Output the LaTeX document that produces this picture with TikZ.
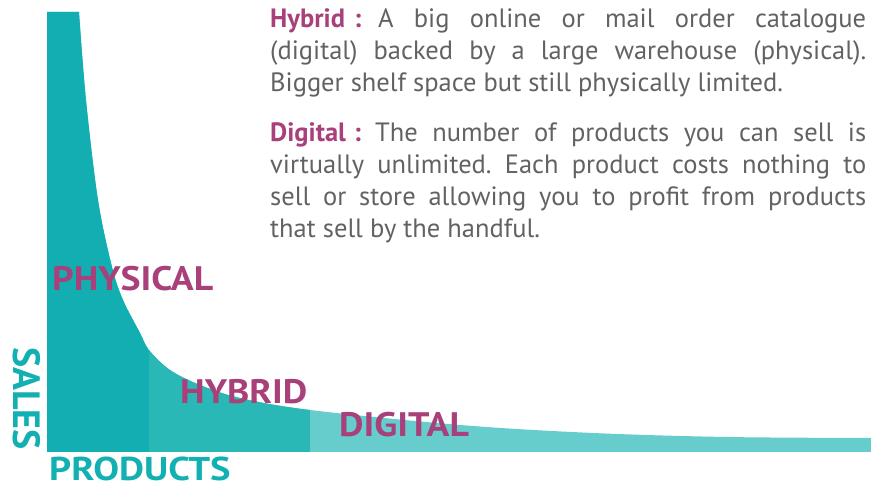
\documentclass[tikz,border=0pt]{standalone}
\usepackage{fontspec}
\setmainfont{PT Sans}
\frenchspacing
\definecolor{phys}{HTML}{12AEB1}
\definecolor{hyb}{HTML}{2AB8B7}
\definecolor{dig}{HTML}{66CCCC}
\definecolor{purp}{HTML}{A8407A}
\definecolor{tealtxt}{HTML}{13B0B2}
\definecolor{bodygray}{HTML}{626262}
\tikzset{
  body/.style={anchor=base west, inner sep=0pt, font=\fontsize{26.5}{32}\selectfont, text=bodygray},
  biglabel/.style={anchor=base west, inner sep=0pt, font=\bfseries\fontsize{34}{34}\selectfont, text=purp, xscale=1.11},
  axislabel/.style={anchor=base west, inner sep=0pt, text=tealtxt},
}
\begin{document}
\begin{tikzpicture}[x=1pt,y=-1pt]
\useasboundingbox (0,0) rectangle (871,486);
% whole area (digital colour)
\fill[dig] (47,452) -- (47,12) -- plot[smooth,tension=0.55] coordinates {(79,12) (86,100) (98,200) (112,267) (123,300) (140,333) (149,350) (170,370) (200,385) (240,398) (310,410) (460,425) (593,433) (727,437) (871,438)} -- (871,452) -- cycle;
\begin{scope}
\clip (47,452) -- (47,12) -- plot[smooth,tension=0.55] coordinates {(79,12) (86,100) (98,200) (112,267) (123,300) (140,333) (149,350) (170,370) (200,385) (240,398) (310,410) (460,425) (593,433) (727,437) (871,438)} -- (871,452) -- cycle;
\fill[phys] (40,0) rectangle (149,460);
\fill[hyb] (149,0) rectangle (310,460);
\end{scope}
% description text
\node[body] (h1) at (270,28) {\makebox[596pt][s]{\textbf{\color{purp}Hybrid\hspace{9pt}:}\hspace{17pt}A big online or mail order catalogue}};
\node[body] (h2) at (270,60) {\makebox[596pt][s]{(digital) backed by a large warehouse (physical).}};
\node[body] (h3) at (270,92) {Bigger shelf space but still physically limited.};
\node[body] (d1) at (270,142) {\makebox[596pt][s]{\textbf{\color{purp}Digital\hspace{8pt}:}\hspace{14pt}The number of products you can sell is}};
\node[body] (d2) at (270,174) {\makebox[596pt][s]{virtually unlimited. Each product costs nothing to}};
\node[body] (d3) at (270,206) {\makebox[596pt][s]{sell or store allowing you to profit from products}};
\node[body] (d4) at (270,238) {that sell by the handful.};
% region labels
\node[biglabel] (physical) at (52,291) {PHYSICAL};
\node[biglabel] (hybrid) at (180,404) {HYBRID};
\node[biglabel] (digital) at (339,437) {DIGITAL};
% axis labels
\node[axislabel, font=\bfseries\fontsize{33}{33}\selectfont, xscale=1.17] (products) at (49,481) {PRODUCTS};
\node[axislabel, rotate=-90, font=\bfseries\fontsize{38}{38}\selectfont] (sales) at (13,347) {SALES};
\end{tikzpicture}
\end{document}
